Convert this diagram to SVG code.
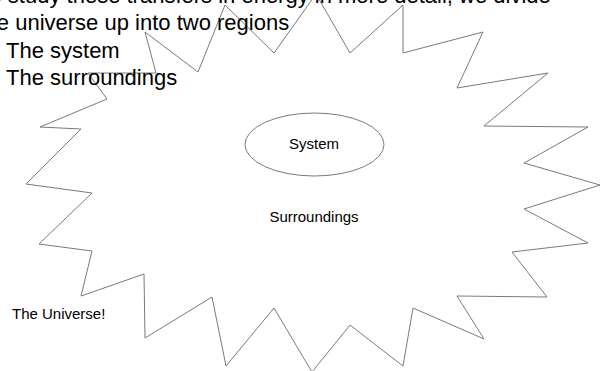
<svg xmlns="http://www.w3.org/2000/svg" width="600" height="371" viewBox="0 0 600 371">
<style>
  .outline { fill: none; stroke: #7a7a7a; stroke-width: 1; stroke-linejoin: miter; }
  .big { font-family: "Liberation Sans", Arial, sans-serif; font-size: 22px; fill: #000; }
  .lbl { font-family: "Liberation Sans", Arial, sans-serif; font-size: 15px; fill: #000; }
</style>
<rect width="600" height="371" fill="#fff"/>
<g id="universe">
  <polygon class="outline" points="88,73 156,73 145,32 198,72 225,5 274,53 316,-6 350,53 403,5 403,53 483,32 457,88 548,73 484,126 588,127 524,163 600,185 524,209 588,243 512,252 547,297 457,296 484,339 413,308 403,366 350,325 312,372 274,308 226,366 212,297 145,338 144,274 81,296 92,251 39,244 92,193 26,184 81,129 40,127 107,99"/>
  <text class="lbl" x="12" y="319">The Universe!</text>
</g>
<g id="system">
  <ellipse class="outline" cx="314.5" cy="144.5" rx="69.5" ry="31.5"/>
  <text class="lbl" x="314" y="149" text-anchor="middle">System</text>
</g>
<g id="surroundings">
  <text class="lbl" x="314" y="222" text-anchor="middle">Surroundings</text>
</g>
<g id="heading">
  <text class="big" x="-21.5" y="2.5">To study these transfers in energy in more detail, we divide</text>
  <text class="big" x="-21.5" y="30">the universe up into two regions</text>
  <text class="big" x="6" y="57.5">The system</text>
  <text class="big" x="6" y="85">The surroundings</text>
</g>
</svg>
